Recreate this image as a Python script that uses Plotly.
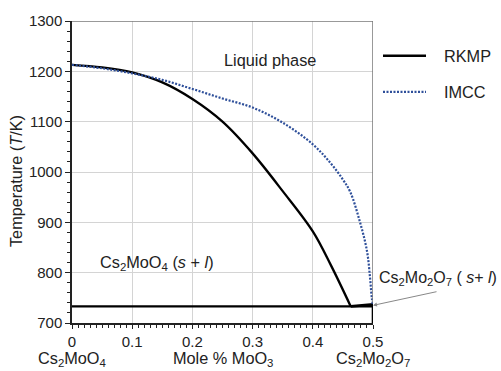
import plotly.graph_objects as go

# RKMP liquidus (Cs2MoO4 side) down to the eutectic
rkmp_x = [0.0, 0.05, 0.10, 0.15, 0.20, 0.25, 0.30, 0.35, 0.40, 0.43, 0.463]
rkmp_t = [1213, 1208, 1198, 1178, 1145, 1100, 1037, 962, 882, 815, 733]
# RKMP Cs2Mo2O7 side
rkmp2_x = [0.463, 0.5, 0.5]
rkmp2_t = [733, 737, 700]

# IMCC liquidus
imcc_x = [0.0, 0.05, 0.10, 0.15, 0.20, 0.25, 0.30, 0.35, 0.40, 0.43, 0.45, 0.462, 0.478, 0.49, 0.495, 0.498, 0.5]
imcc_t = [1213, 1206, 1196, 1183, 1165, 1146, 1128, 1098, 1055, 1017, 985, 961, 902, 843, 791, 750, 735]

# Eutectic line
eut_x = [0.0, 0.5]
eut_t = [733, 733]

x_ticks = [0, 0.1, 0.2, 0.3, 0.4, 0.5]
x_tick_labels = ["0", "0.1", "0.2", "0.3", "0.4", "0.5"]
y_ticks = [700, 800, 900, 1000, 1100, 1200, 1300]

legend_names = ["RKMP", "IMCC"]
BLACK = "black"
BLUE = "#2E4F9A"
BLUE_DASH = "2px,1.5px"

FONT = "Liberation Sans, Arial, sans-serif"
FS = 14.5
FA = 16.3

fig = go.Figure()
fig.add_trace(go.Scatter(x=eut_x, y=eut_t, mode="lines", line=dict(color=BLACK, width=2.3),
                         showlegend=False, hoverinfo="skip"))
fig.add_trace(go.Scatter(x=rkmp_x, y=rkmp_t, mode="lines", name=legend_names[0],
                         line=dict(color=BLACK, width=2.3, shape="spline"), showlegend=False))
fig.add_trace(go.Scatter(x=rkmp2_x, y=rkmp2_t, mode="lines", name=legend_names[0],
                         line=dict(color=BLACK, width=2.6), showlegend=False))
fig.add_trace(go.Scatter(x=imcc_x, y=imcc_t, mode="lines", name=legend_names[1],
                         line=dict(color=BLUE, width=2.2, dash=BLUE_DASH, shape="spline"),
                         showlegend=False))

fig.update_layout(
    width=501, height=371,
    margin=dict(l=72, r=128, t=17, b=48),
    paper_bgcolor="white", plot_bgcolor="white",
    font=dict(family=FONT, size=FS, color="#222"),
    xaxis=dict(range=[0, 0.5], tickvals=x_ticks, ticktext=x_tick_labels,
               showgrid=True, gridcolor="#d4d4d4", gridwidth=1,
               showline=True, linecolor="#222", linewidth=1.5,
               ticks="outside", ticklen=4, tickcolor="#222",
               minor=dict(dtick=0.01, ticks="outside", ticklen=3, tickcolor="#222", showgrid=False),
               zeroline=False, fixedrange=True, tickfont=dict(size=15)),
    yaxis=dict(range=[700, 1300], tickvals=y_ticks,
               showgrid=True, gridcolor="#d4d4d4", gridwidth=1,
               showline=True, linecolor="#222", linewidth=1.5,
               ticks="outside", ticklen=5, tickcolor="#222",
               minor=dict(dtick=20, ticks="outside", ticklen=3, tickcolor="#222", showgrid=False),
               zeroline=False, fixedrange=True, tickfont=dict(size=15)),
)

# top and right borders
fig.add_shape(type="line", xref="x", yref="y", x0=0, x1=0.5, y0=1300, y1=1300,
              line=dict(color="#777", width=1.5))
fig.add_shape(type="line", xref="x", yref="y", x0=0.5, x1=0.5, y0=740, y1=1300,
              line=dict(color="#777", width=1.5))

# manual legend
PX = lambda px: (px - 72) / 301
fig.add_shape(type="line", xref="paper", yref="y", x0=PX(383), x1=PX(426), y0=1231, y1=1231,
              line=dict(color=BLACK, width=2.3))
fig.add_shape(type="line", xref="paper", yref="y", x0=PX(383), x1=PX(426), y0=1159, y1=1159,
              line=dict(color=BLUE, width=2.2, dash=BLUE_DASH))

ann = [
    dict(text=legend_names[0], xref="paper", yref="y", x=PX(442), y=1231, showarrow=False,
         xanchor="left", yanchor="middle", font=dict(size=FA)),
    dict(text=legend_names[1], xref="paper", yref="y", x=PX(442), y=1159, showarrow=False,
         xanchor="left", yanchor="middle", font=dict(size=FA)),
    dict(text="Temperature (<i>T</i>/K)", xref="paper", yref="paper",
         x=PX(16), y=0.47, textangle=-90, showarrow=False,
         xanchor="center", yanchor="middle", font=dict(size=16.3)),
    dict(text="Liquid phase", xref="x", yref="y", x=0.249, y=1222, showarrow=False,
         xanchor="left", yanchor="middle", font=dict(size=FA)),
    dict(text="Cs<sub>2</sub>MoO<sub>4</sub> (<i>s</i> + <i>l</i>)", xref="x", yref="y",
         x=0.044, y=820, showarrow=False, xanchor="left", yanchor="middle", font=dict(size=FA)),
    dict(text="Cs<sub>2</sub>Mo<sub>2</sub>O<sub>7</sub> ( <i>s</i>+ <i>l</i>)", xref="paper", yref="y",
         x=PX(377), y=788, showarrow=False, xanchor="left", yanchor="middle", font=dict(size=16)),
    dict(text="", xref="x", yref="y", x=0.5, y=735, ax=65, ay=-14, showarrow=True,
         arrowhead=2, arrowsize=0.8, arrowwidth=1, arrowcolor="#888"),
    dict(text="Cs<sub>2</sub>MoO<sub>4</sub>", xref="x", yref="paper", x=0.0,
         y=-(359 - 323) / 306, showarrow=False, xanchor="center", yanchor="middle", font=dict(size=FA)),
    dict(text="Mole % MoO<sub>3</sub>", xref="x", yref="paper", x=0.25,
         y=-(359 - 323) / 306, showarrow=False, xanchor="center", yanchor="middle", font=dict(size=FA)),
    dict(text="Cs<sub>2</sub>Mo<sub>2</sub>O<sub>7</sub>", xref="x", yref="paper", x=0.5,
         y=-(359 - 323) / 306, showarrow=False, xanchor="center", yanchor="middle", font=dict(size=FA)),
]
for a in ann:
    fig.add_annotation(**a)

fig.write_html("out.html")
